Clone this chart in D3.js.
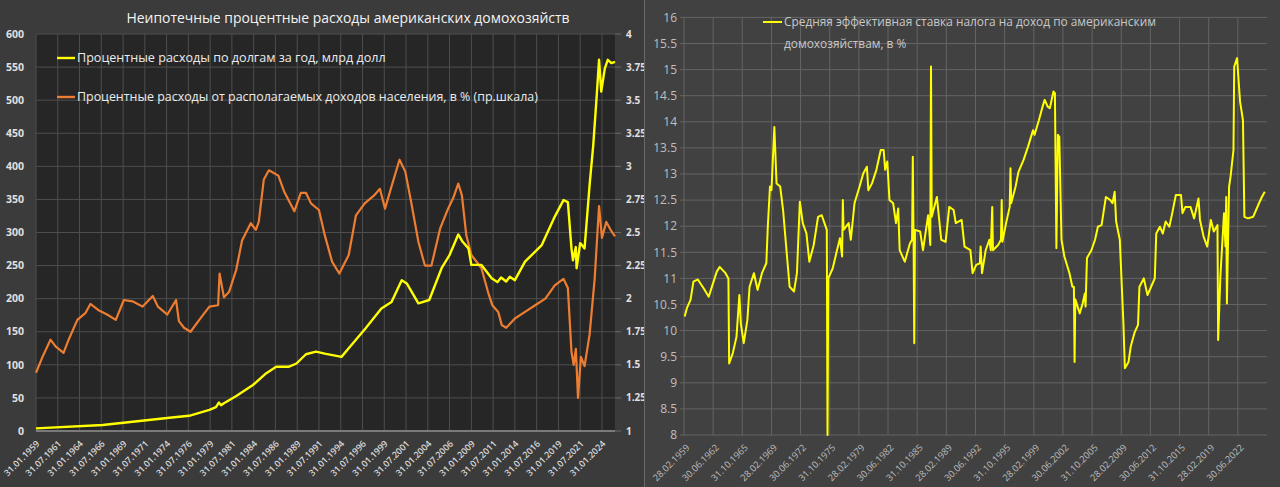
<!DOCTYPE html>
<html><head><meta charset="utf-8">
<script src="https://cdn.jsdelivr.net/npm/d3@7"></script>
<style>
html,body{margin:0;padding:0;background:#3b3b3b;}
svg{display:block;font-family:"Open Sans",sans-serif;}
</style></head><body>
<svg id="c" width="1280" height="487"></svg>
<script>
// ---------- DATA ----------
const leftTitle = "Неипотечные процентные расходы американских домохозяйств";
const debtLabel = "Процентные расходы по долгам за год, млрд долл";
const shareLabel = "Процентные расходы от располагаемых доходов населения, в % (пр.шкала)";
const taxLabelLines = ["Средняя эффективная ставка налога на доход по американским", "домохозяйствам, в %"];

// Non-mortgage interest payments, $bn (left axis)
const debtDates = ["1959-01","1966-09","1974-05","1976-08","1978-12","1979-09","1980-01","1980-04","1980-08","1982-01","1983-12","1985-06","1986-08","1988-01","1988-12","1990-01","1991-03","1992-03","1994-02","1994-12","1996-11","1998-09","1999-11","2001-01","2001-08","2002-12","2004-03","2005-08","2006-07","2007-07","2008-01","2008-09","2009-01","2010-03","2011-05","2012-01","2012-06","2013-01","2013-06","2014-01","2015-03","2017-02","2018-08","2019-08","2020-02","2020-07","2020-09","2021-01","2021-02","2021-07","2022-01","2022-08","2023-01","2023-06","2023-09","2023-12","2024-05","2024-09","2025-02","2025-07"];
const debtValues = [4,9,20,23,32,36,43,39,42,53,69.5,87,97,97,102,116,120,117,112,125,155,185,195,228,223,193,198,246,266,297,286,276,251,251,231,225,232,226,233,228,256,281,324,349,346,276,258,278,246,284,276,372,432,510,561,513,548,561,556,558];

// Interest payments as % of disposable income (right axis)
const shareDates = ["1959-01","1959-10","1960-09","1961-04","1962-03","1962-10","1963-10","1964-09","1965-04","1966-04","1967-03","1968-03","1969-02","1970-02","1971-04","1972-06","1973-01","1974-02","1975-02","1975-06","1976-01","1976-10","1977-10","1978-12","1979-12","1980-02","1980-08","1981-03","1982-01","1982-09","1983-09","1984-04","1984-08","1985-03","1985-10","1986-11","1987-07","1988-09","1989-06","1990-01","1990-08","1991-07","1992-03","1993-01","1993-11","1994-12","1995-10","1996-10","1997-11","1998-07","1999-02","1999-10","2000-10","2001-06","2002-02","2002-12","2003-09","2004-06","2005-06","2006-05","2006-12","2007-07","2007-12","2008-06","2009-01","2010-03","2010-12","2011-06","2012-02","2012-07","2013-01","2014-01","2015-03","2016-05","2017-07","2018-08","2019-08","2020-02","2020-07","2020-10","2021-01","2021-04","2021-08","2022-01","2022-08","2023-03","2023-09","2024-01","2024-07","2025-02","2025-07"];
const shareValues = [1.44,1.56,1.69,1.64,1.59,1.69,1.84,1.89,1.96,1.91,1.88,1.84,1.99,1.98,1.94,2.02,1.94,1.88,1.99,1.83,1.78,1.75,1.84,1.94,1.95,2.19,2.01,2.05,2.22,2.44,2.57,2.52,2.58,2.90,2.97,2.93,2.81,2.66,2.80,2.80,2.72,2.67,2.48,2.28,2.19,2.33,2.63,2.72,2.78,2.83,2.68,2.83,3.05,2.96,2.73,2.43,2.25,2.25,2.53,2.68,2.76,2.87,2.78,2.48,2.33,2.23,2.05,1.95,1.90,1.80,1.78,1.85,1.90,1.95,2.00,2.10,2.15,2.08,1.60,1.50,1.62,1.25,1.56,1.49,1.73,2.15,2.70,2.46,2.58,2.51,2.47];

// Average effective income tax rate, %
const taxDates = ["1959-03","1959-06","1959-11","1960-03","1960-09","1961-05","1961-12","1962-03","1962-11","1963-03","1963-11","1964-03","1964-04","1964-09","1965-02","1965-06","1965-08","1965-12","1966-05","1966-08","1967-02","1967-07","1968-01","1968-07","1968-09","1968-12","1969-02","1969-06","1969-09","1970-02","1970-06","1970-11","1971-03","1971-09","1972-01","1972-05","1972-09","1973-02","1973-06","1973-12","1974-06","1974-11","1975-06","1975-07","1975-08","1976-02","1976-07","1976-12","1977-03","1977-04","1977-05","1977-12","1978-03","1978-08","1979-03","1979-08","1980-01","1980-03","1980-08","1981-02","1981-08","1981-12","1982-02","1982-05","1982-08","1983-01","1983-05","1983-08","1983-10","1984-05","1984-12","1985-03","1985-04","1985-05","1985-06","1985-07","1986-02","1986-06","1987-01","1987-04","1987-05","1987-06","1988-01","1988-07","1989-01","1989-06","1989-12","1990-03","1990-11","1991-03","1991-11","1992-02","1992-07","1992-12","1993-01","1993-03","1993-08","1994-01","1994-03","1994-05","1994-06","1995-01","1995-05","1995-06","1995-07","1995-12","1996-05","1996-06","1996-07","1997-01","1997-05","1997-12","1998-06","1999-01","1999-03","1999-09","2000-02","2000-05","2000-09","2000-12","2001-05","2001-07","2001-09","2001-11","2002-01","2002-04","2002-08","2003-03","2003-07","2003-09","2003-10","2003-11","2004-05","2004-09","2004-12","2005-01","2005-03","2005-09","2006-02","2006-06","2006-11","2007-05","2007-11","2008-02","2008-05","2008-07","2008-12","2009-05","2009-07","2009-12","2010-03","2010-08","2011-01","2011-03","2011-09","2012-02","2012-07","2012-12","2013-02","2013-07","2013-11","2014-03","2014-08","2014-12","2015-05","2015-12","2016-02","2016-06","2017-01","2017-06","2017-12","2018-02","2018-07","2018-12","2019-05","2019-09","2020-02","2020-03","2020-06","2020-11","2021-01","2021-02","2021-03","2021-06","2021-08","2021-12","2022-01","2022-05","2022-07","2022-09","2023-01","2023-03","2023-08","2024-03","2024-11","2025-03","2025-07"];
const taxValues = [10.27,10.43,10.59,10.94,10.98,10.81,10.65,10.78,11.13,11.22,11.10,11.0,9.37,9.57,9.88,10.68,10.14,9.76,10.2,10.84,11.1,10.78,11.1,11.29,11.99,12.76,12.69,13.9,12.82,12.76,12.31,11.48,10.84,10.75,11.1,12.47,12.06,11.86,11.32,11.64,12.18,12.21,11.93,8.0,11.0,11.19,11.48,11.77,11.42,12.5,11.93,12.06,11.74,12.44,12.76,13.01,13.14,12.69,12.82,13.08,13.46,13.46,13.08,13.24,12.5,12.44,12.06,12.34,11.54,11.32,11.67,11.74,13.33,11.9,9.76,11.93,11.9,11.54,12.21,11.64,15.06,12.18,12.56,11.74,11.7,12.37,12.31,12.06,12.12,11.61,11.54,11.1,11.26,11.29,11.61,11.1,11.54,11.74,11.54,12.37,11.54,11.64,11.74,12.5,11.7,12.06,12.37,13.11,12.44,12.76,13.04,13.27,13.52,13.84,13.75,14.03,14.29,14.42,14.29,14.26,14.58,14.55,11.58,13.75,13.71,11.74,11.42,11.1,10.84,10.84,9.40,10.6,10.33,10.52,10.71,10.46,11.39,11.54,11.74,11.99,12.02,12.56,12.5,12.44,12.66,12.09,11.74,10.14,9.28,9.40,9.69,9.95,10.11,10.84,11.0,10.68,10.84,11.0,11.86,11.99,11.86,12.09,11.99,12.25,12.6,12.6,12.25,12.37,12.37,12.15,12.53,12.12,11.8,11.61,12.12,11.9,12.02,9.82,11.03,12.25,11.61,12.56,10.52,12.76,12.95,13.46,15.06,15.22,14.8,14.39,14.03,12.18,12.15,12.18,12.44,12.56,12.66];

// Axis tick labels
const leftXLabels = ["31.01.1959","31.07.1961","31.01.1964","31.07.1966","31.01.1969","31.07.1971","31.01.1974","31.07.1976","31.01.1979","31.07.1981","31.01.1984","31.07.1986","31.01.1989","31.07.1991","31.01.1994","31.07.1996","31.01.1999","31.07.2001","31.01.2004","31.07.2006","31.01.2009","31.07.2011","31.01.2014","31.07.2016","31.01.2019","31.07.2021","31.01.2024"];
const leftYTicks = [0,50,100,150,200,250,300,350,400,450,500,550,600];
const leftY2Ticks = [1,1.25,1.5,1.75,2,2.25,2.5,2.75,3,3.25,3.5,3.75,4];
const rightXLabels = ["28.02.1959","30.06.1962","31.10.1965","28.02.1969","30.06.1972","31.10.1975","28.02.1979","30.06.1982","31.10.1985","28.02.1989","30.06.1992","31.10.1995","28.02.1999","30.06.2002","31.10.2005","28.02.2009","30.06.2012","31.10.2015","28.02.2019","30.06.2022"];
const rightYTicks = [8,8.5,9,9.5,10,10.5,11,11.5,12,12.5,13,13.5,14,14.5,15,15.5,16];

// ---------- HELPERS ----------
const parseYM = s => { const [y,m] = s.split("-").map(Number); return new Date(y, m-1, 1); };
const parseDMY = s => { const [d,m,y] = s.split(".").map(Number); return new Date(y, m-1, 1); };
function fit(sel, target){ const w = sel.node().getComputedTextLength(); const fs = parseFloat(sel.attr("font-size")); const nf = fs*target/w; sel.attr("font-size", nf.toFixed(2)); return nf; }

const svg = d3.select("#c");

// ---------- LEFT PANEL ----------
svg.append("rect").attr("x",0).attr("y",0).attr("width",644).attr("height",487).attr("fill","#3b3b3b");
const L = {x0:36, x1:615, y0:34, y1:431};
svg.append("rect").attr("x",L.x0).attr("y",L.y0).attr("width",L.x1-L.x0).attr("height",L.y1-L.y0).attr("fill","#262626");

const xL = d3.scaleTime().domain([new Date(1959,0,1), new Date(2025,6,1)]).range([L.x0, L.x1]);
const yL = d3.scaleLinear().domain([0,600]).range([L.y1, L.y0]);
const yL2 = d3.scaleLinear().domain([1,4]).range([L.y1, L.y0]);

const gL = svg.append("g");
gL.append("g").selectAll("line").data(leftYTicks.slice(1)).join("line")
  .attr("x1",L.x0).attr("x2",L.x1).attr("y1",d=>yL(d)).attr("y2",d=>yL(d))
  .attr("stroke","#4e4e4e").attr("stroke-width",1);
gL.append("g").selectAll("line").data(leftXLabels).join("line")
  .attr("x1",d=>xL(parseDMY(d))).attr("x2",d=>xL(parseDMY(d))).attr("y1",L.y0).attr("y2",L.y1)
  .attr("stroke","#4e4e4e").attr("stroke-width",1);
gL.append("line").attr("x1",L.x0).attr("x2",L.x1).attr("y1",L.y1).attr("y2",L.y1).attr("stroke","#7a7a7a").attr("stroke-width",2);
gL.append("g").selectAll("line").data(leftY2Ticks).join("line")
  .attr("x1",L.x1).attr("x2",L.x1+6).attr("y1",d=>yL2(d)).attr("y2",d=>yL2(d)).attr("stroke","#6a6a6a");

gL.append("g").selectAll("text").data(leftYTicks).join("text")
  .attr("x",24).attr("y",d=>yL(d)).attr("dy","0.35em").attr("text-anchor","end")
  .attr("font-size",10.5).attr("font-weight",700).attr("fill","#e0e0e0").text(d=>d);
gL.append("g").selectAll("text").data(leftY2Ticks).join("text")
  .attr("x",626).attr("y",d=>yL2(d)).attr("dy","0.35em").attr("text-anchor","start")
  .attr("font-size",10).attr("font-weight",700).attr("fill","#e0e0e0").text(d=>String(d));
gL.append("g").selectAll("text").data(leftXLabels).join("text")
  .attr("transform",d=>`translate(${xL(parseDMY(d))+2},${L.y1+11}) rotate(-45)`)
  .attr("text-anchor","end").attr("dy","0.35em")
  .attr("font-size",9).attr("font-weight",600).attr("fill","#d8d8d8").text(d=>d);

const lineDebt = d3.line().x((d,i)=>xL(parseYM(debtDates[i]))).y(d=>yL(d));
const lineShare = d3.line().x((d,i)=>xL(parseYM(shareDates[i]))).y(d=>yL2(d));
gL.append("path").datum(shareValues).attr("d",lineShare).attr("fill","none").attr("stroke","#ED7D31").attr("stroke-width",2.2).attr("stroke-linejoin","round");
gL.append("path").datum(debtValues).attr("d",lineDebt).attr("fill","none").attr("stroke","#FFFF00").attr("stroke-width",2.4).attr("stroke-linejoin","round");

const t = gL.append("text").attr("x",348).attr("y",18).attr("dy","0.35em").attr("text-anchor","middle")
  .attr("font-size",14).attr("fill","#f2f2f2").text(leftTitle);
fit(t, 443);
gL.append("line").attr("x1",57).attr("x2",75).attr("y1",58).attr("y2",58).attr("stroke","#FFFF00").attr("stroke-width",2.4);
const l1 = gL.append("text").attr("x",77).attr("y",58).attr("dy","0.35em").attr("font-size",12.5).attr("fill","#ececec").text(debtLabel);
fit(l1, 309);
gL.append("line").attr("x1",57).attr("x2",75).attr("y1",97).attr("y2",97).attr("stroke","#ED7D31").attr("stroke-width",2.4);
const l2 = gL.append("text").attr("x",77).attr("y",97).attr("dy","0.35em").attr("font-size",12.5).attr("fill","#ececec").text(shareLabel);
fit(l2, 461);

svg.append("line").attr("x1",644.5).attr("x2",644.5).attr("y1",0).attr("y2",487).attr("stroke","#6a6a6a");

// ---------- RIGHT PANEL ----------
svg.append("rect").attr("x",645).attr("y",0).attr("width",635).attr("height",487).attr("fill","#414141");
const R = {x0:684, x1:1267, y0:17.4, y1:435};
const xR = d3.scaleTime().domain([new Date(1959,1,1), new Date(2025,9,1)]).range([R.x0, R.x1]);
const yR = d3.scaleLinear().domain([8,16]).range([R.y1, R.y0]);
const gR = svg.append("g");
gR.append("g").selectAll("line").data(rightYTicks).join("line")
  .attr("x1",680).attr("x2",R.x1).attr("y1",d=>yR(d)).attr("y2",d=>yR(d))
  .attr("stroke","#646464");
gR.append("g").selectAll("line").data(rightXLabels).join("line")
  .attr("x1",d=>xR(parseDMY(d))).attr("x2",d=>xR(parseDMY(d))).attr("y1",R.y0).attr("y2",R.y1)
  .attr("stroke","#646464");
gR.append("g").selectAll("text").data(rightYTicks).join("text")
  .attr("x",677).attr("y",d=>yR(d)).attr("dy","0.35em").attr("text-anchor","end")
  .attr("font-size",12).attr("fill","#bfbfbf").text(d=>String(d));
gR.append("g").selectAll("text").data(rightXLabels).join("text")
  .attr("transform",d=>`translate(${xR(parseDMY(d))+4},${R.y1+11}) rotate(-45)`)
  .attr("text-anchor","end").attr("dy","0.35em")
  .attr("font-size",9.3).attr("fill","#bfbfbf").text(d=>d);
const lineTax = d3.line().x((d,i)=>xR(parseYM(taxDates[i]))).y(d=>yR(d));
gR.append("path").datum(taxValues).attr("d",lineTax).attr("fill","none").attr("stroke","#FFFF00").attr("stroke-width",2).attr("stroke-linejoin","round");

gR.append("line").attr("x1",763).attr("x2",782).attr("y1",22).attr("y2",22).attr("stroke","#FFFF00").attr("stroke-width",2);
const r1 = gR.append("text").attr("x",784).attr("y",22).attr("dy","0.35em").attr("font-size",12).attr("fill","#c8c8c8").text(taxLabelLines[0]);
const rf = fit(r1, 372);
gR.append("text").attr("x",784).attr("y",44).attr("dy","0.35em").attr("font-size",rf.toFixed(2)).attr("fill","#c8c8c8").text(taxLabelLines[1]);
</script></body></html>
